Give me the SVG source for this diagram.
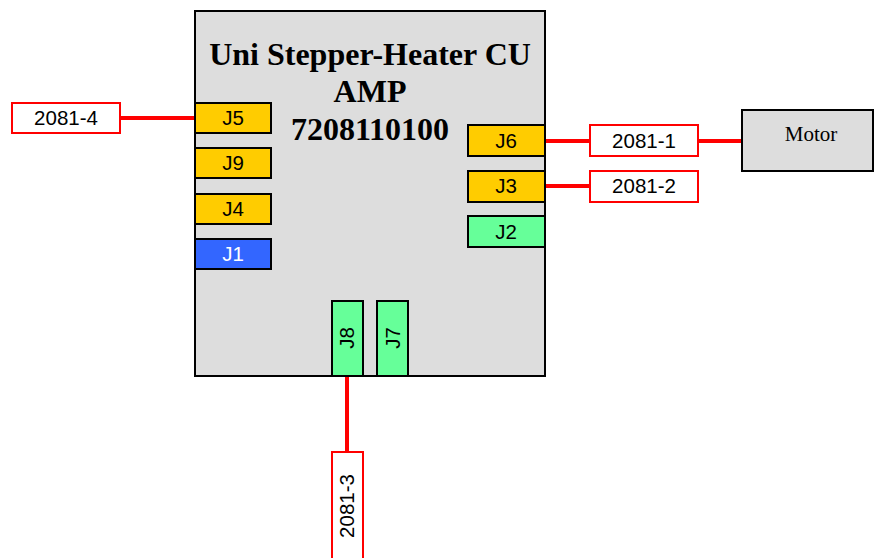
<svg xmlns="http://www.w3.org/2000/svg" width="874" height="558" viewBox="0 0 874 558">
<style>
.box{fill:#DDDDDD;stroke:#000;stroke-width:2}
.org{fill:#FFCC00;stroke:#000;stroke-width:2}
.grn{fill:#66FF99;stroke:#000;stroke-width:2}
.blu{fill:#3366FF;stroke:#000;stroke-width:2}
.lbl{fill:#fff;stroke:#FF0000;stroke-width:2}
.t{font-family:"Liberation Sans",Arial,sans-serif;font-size:20.5px;text-anchor:middle;fill:#000}
.title{font-family:"Liberation Serif","Times New Roman",serif;font-size:32px;font-weight:bold;text-anchor:middle;fill:#000}
.ser{font-family:"Liberation Serif","Times New Roman",serif;font-size:21px;text-anchor:middle;fill:#000}
.wire{stroke:#FF0000;stroke-width:4;fill:none}
</style>
<g id="connectors">
<line class="wire" x1="120" y1="118" x2="195" y2="118"/>
<line class="wire" x1="545" y1="141" x2="590" y2="141"/>
<line class="wire" x1="698" y1="141" x2="742" y2="141"/>
<line class="wire" x1="545" y1="186" x2="590" y2="186"/>
<line class="wire" x1="347" y1="376" x2="347" y2="452"/>
</g>
<g id="unit">
<rect class="box" x="195" y="11" width="350" height="365"/>
<text class="title" x="370" y="65">Uni Stepper-Heater CU</text>
<text class="title" x="370" y="102">AMP</text>
<text class="title" x="370" y="140">7208110100</text>
</g>
<g id="J5"><rect class="org" x="195" y="103" width="76" height="30"/><text class="t" x="233" y="125">J5</text></g>
<g id="J9"><rect class="org" x="195" y="148" width="76" height="30"/><text class="t" x="233" y="170">J9</text></g>
<g id="J4"><rect class="org" x="195" y="194" width="76" height="30"/><text class="t" x="233" y="216">J4</text></g>
<g id="J1"><rect class="blu" x="195" y="239" width="76" height="30"/><text class="t" x="233" y="261" style="fill:#fff">J1</text></g>
<g id="J6"><rect class="org" x="468" y="125" width="77" height="31"/><text class="t" x="506" y="148">J6</text></g>
<g id="J3"><rect class="org" x="468" y="171" width="77" height="31"/><text class="t" x="506" y="193">J3</text></g>
<g id="J2"><rect class="grn" x="468" y="216" width="77" height="31"/><text class="t" x="506" y="239">J2</text></g>
<g id="J8"><rect class="grn" x="332" y="301" width="31" height="75"/><text class="t" transform="translate(354,338) rotate(-90)">J8</text></g>
<g id="J7"><rect class="grn" x="377" y="301" width="31" height="75"/><text class="t" transform="translate(400,338) rotate(-90)">J7</text></g>
<g id="c2081-4"><rect class="lbl" x="12" y="103" width="108" height="30"/><text class="t" x="66" y="125">2081-4</text></g>
<g id="c2081-1"><rect class="lbl" x="590" y="125" width="108" height="31"/><text class="t" x="644" y="148">2081-1</text></g>
<g id="c2081-2"><rect class="lbl" x="590" y="171" width="108" height="31"/><text class="t" x="644" y="193">2081-2</text></g>
<g id="c2081-3"><rect class="lbl" x="332" y="452" width="31" height="110"/><text class="t" transform="translate(354,506) rotate(-90)">2081-3</text></g>
<g id="motor"><rect class="box" x="742" y="110" width="131" height="61"/><text class="ser" x="811" y="141">Motor</text></g>
</svg>
